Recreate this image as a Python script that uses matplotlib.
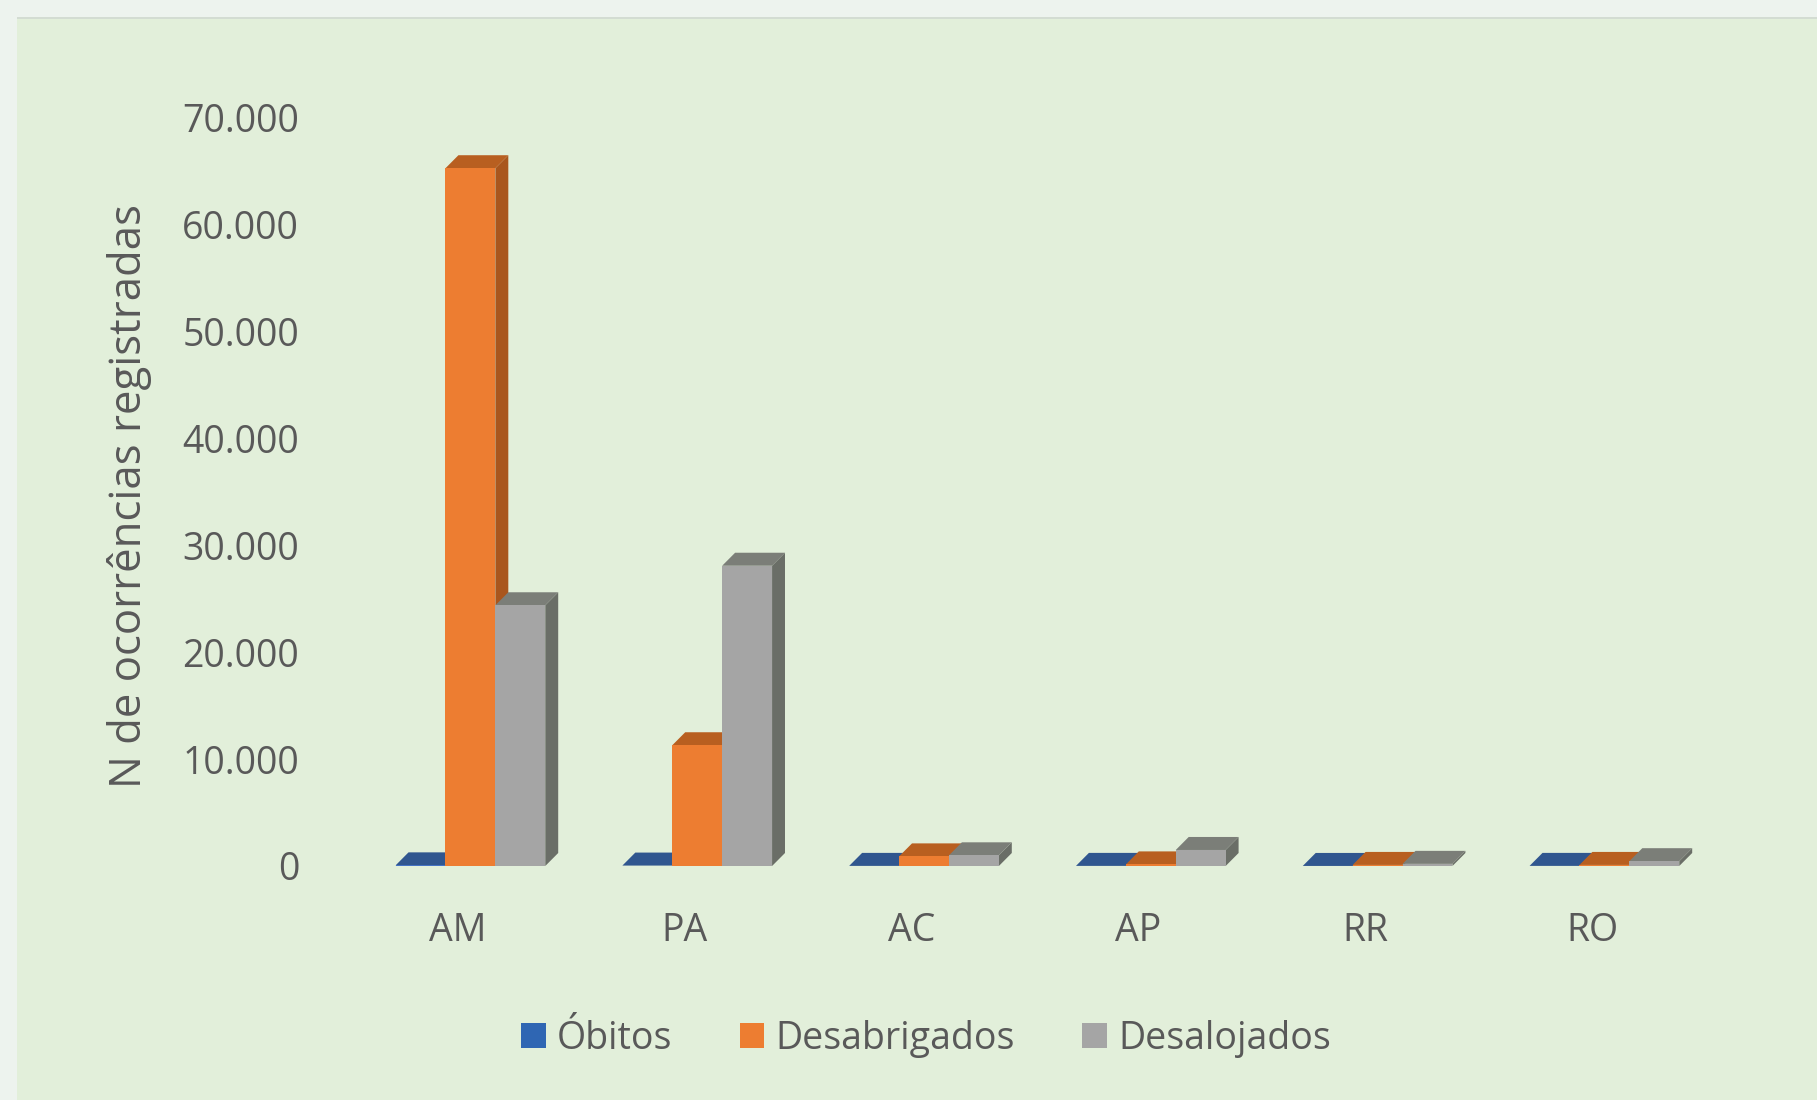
import matplotlib.pyplot as plt
from matplotlib.patches import Polygon, Rectangle, Patch

# data
estados = ['AM', 'PA', 'AC', 'AP', 'RR', 'RO']
series_names = ['Óbitos', 'Desabrigados', 'Desalojados']
obitos = [60, 40, 10, 10, 5, 10]
desabrigados = [65300, 11300, 900, 150, 100, 100]
desalojados = [24400, 28100, 1000, 1500, 200, 450]
yticks = [0, 10000, 20000, 30000, 40000, 50000, 60000, 70000]

# front / side / top shades for each series (Excel 3D column look)
front_colors = ['#4472C4', '#ED7D31', '#A5A5A5']
side_colors = ['#2B4C80', '#A9561D', '#6A6E67']
top_colors = ['#30568F', '#B85F20', '#7B7E78']
legend_colors = ['#2F66B3', '#ED7D31', '#A5A5A5']

text_color = '#595959'
plt.rcParams['font.family'] = ['Open Sans', 'DejaVu Sans']

W, H = 1817, 1100
fig = plt.figure(figsize=(W / 100, H / 100), dpi=100)
fig.patch.set_facecolor('#EDF3EE')

# chart area panel with a faint top shadow
fig.patches.append(Rectangle((17 / W, 0), 1 - 17 / W, 1 - 17 / H, transform=fig.transFigure,
                             facecolor='#E2EFDA', edgecolor='none', zorder=-10))
fig.patches.append(Rectangle((17 / W, 1 - 19 / H), 1 - 17 / W, 2 / H, transform=fig.transFigure,
                             facecolor='#D3DCD2', edgecolor='none', zorder=-10))

left, right = 299.2, 1750.7
y0, y70 = 866, 118
ax = fig.add_axes([left / W, 1 - y0 / H, (right - left) / W, (y0 - y70) / H])
ax.set_zorder(1)
ax.set_facecolor('none')
ax.set_xlim(-0.7, 5.7)
ax.set_ylim(0, 70000)

width = 0.22
offsets = [-0.165, 0.055, 0.275]
dx = 0.057
dy = 13 / (y0 - y70) * 70000


def bar3d(x, h, j):
    xl, xr = x - width / 2, x + width / 2
    side = Polygon([(xr, 0), (xr + dx, dy), (xr + dx, h + dy), (xr, h)], closed=True,
                   facecolor=side_colors[j], edgecolor='none', zorder=3 + j, clip_on=False)
    top = Polygon([(xl, h), (xr, h), (xr + dx, h + dy), (xl + dx, h + dy)], closed=True,
                  facecolor=top_colors[j], edgecolor='none', zorder=3 + j, clip_on=False)
    ax.add_patch(side)
    ax.add_patch(top)
    ax.bar(x, h, width, color=front_colors[j], zorder=3 + j, linewidth=0)


for j, vals in enumerate([obitos, desabrigados, desalojados]):
    for i, v in enumerate(vals):
        bar3d(i + offsets[j], v, j)

for s in ax.spines.values():
    s.set_visible(False)

ax.set_yticks(yticks)
ax.set_yticklabels([f'{v:,}'.replace(',', '.') for v in yticks])
ax.set_xticks(range(len(estados)))
ax.set_xticklabels(estados)
ax.tick_params(axis='y', length=0, pad=0, labelsize=27, labelcolor=text_color)
ax.tick_params(axis='x', length=0, pad=33, labelsize=27, labelcolor=text_color)

fig.text(130 / W, 1 - 496 / H, 'N de ocorrências registradas', rotation=90,
         ha='center', va='center', fontsize=31.5, color=text_color)

handles = [Patch(facecolor=c, edgecolor='none') for c in legend_colors]
leg = fig.legend(handles, series_names, loc='center', bbox_to_anchor=(926 / W, 1 - 1039 / H),
                 ncol=3, frameon=False, fontsize=27, handlelength=0.65, handleheight=0.65,
                 handletextpad=0.3, columnspacing=1.8)
for t in leg.get_texts():
    t.set_color(text_color)

fig.savefig('out.png', dpi=100, facecolor=fig.get_facecolor())
